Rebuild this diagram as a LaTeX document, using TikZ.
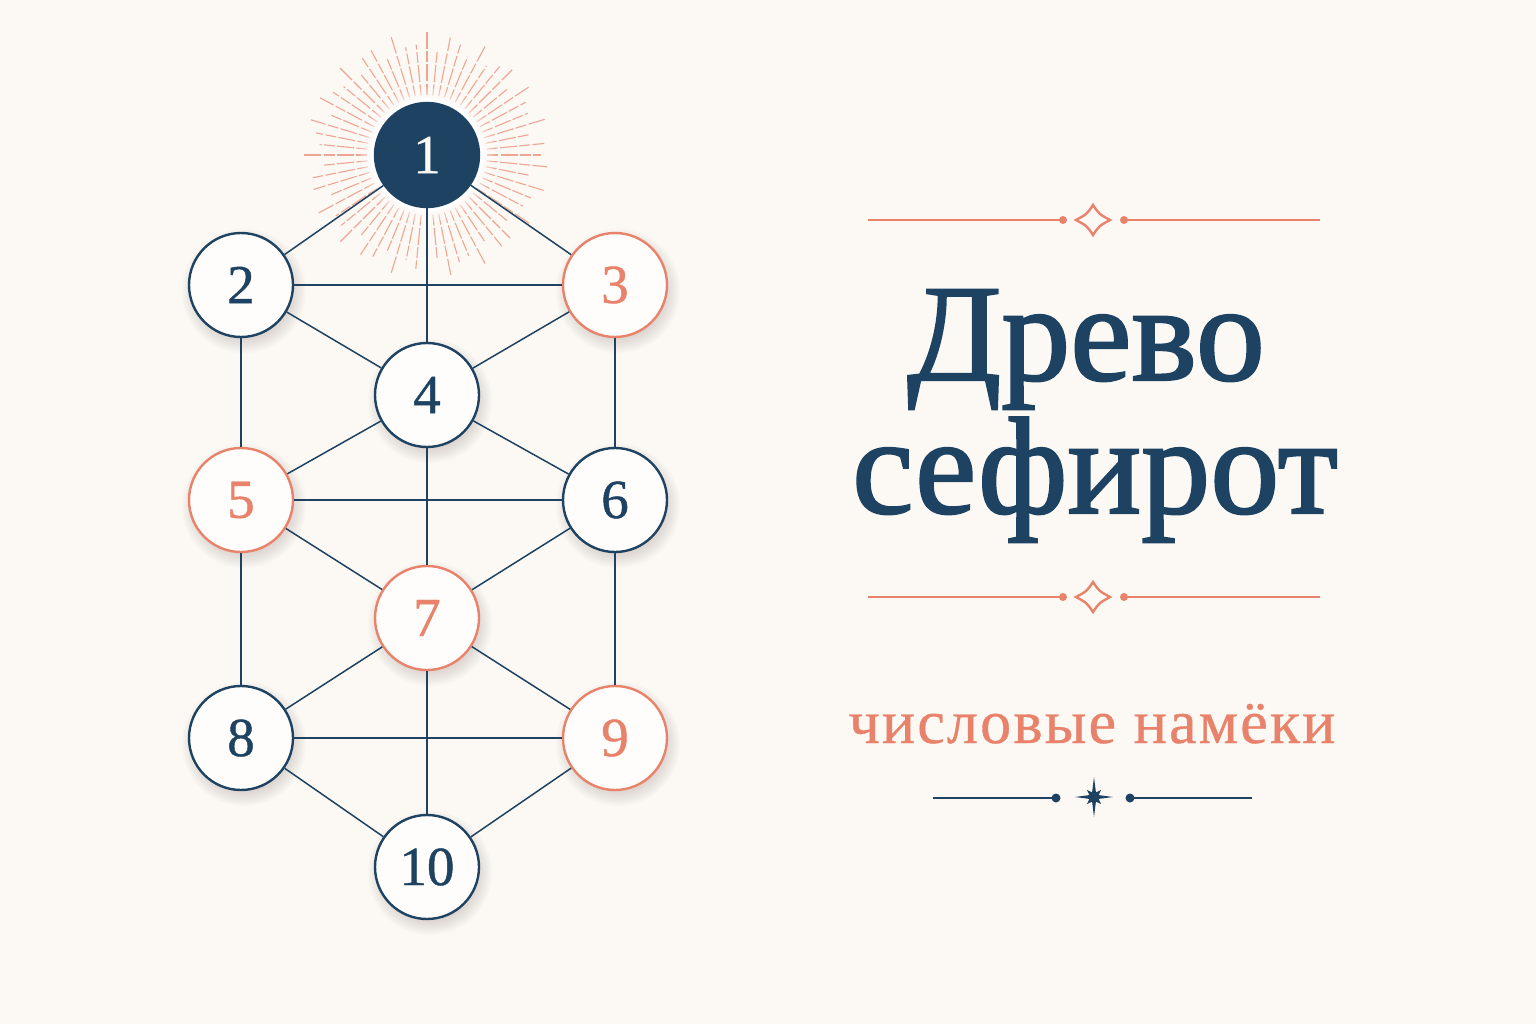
\documentclass[tikz,border=0pt]{standalone}
\usepackage{fontspec}
\setmainfont{Liberation Serif}
\newfontfamily\titlefont[FakeBold=1.6]{Liberation Serif}
\newfontfamily\numfont[FakeBold=0.8]{Liberation Serif}
\newfontfamily\subfont[FakeBold=0.6, LetterSpace=3.5]{Liberation Serif}
\definecolor{navy}{HTML}{1E4262}
\definecolor{coral}{HTML}{E9826A}
\definecolor{bg}{HTML}{FCF9F5}
\definecolor{nodefill}{HTML}{FEFDFB}
\definecolor{shade}{HTML}{6B5A4A}
\begin{document}
\begin{tikzpicture}[x=1pt,y=-1pt,
  sefira/.style={circle, minimum size=104pt, inner sep=0pt, line width=2.4pt, fill=nodefill,
    font=\numfont\fontsize{55}{55}\selectfont},
  navysef/.style={sefira, draw=navy, text=navy},
  coralsef/.style={sefira, draw=coral, text=coral},
  link/.style={draw=navy, line width=1.5pt},
  ray/.style={draw=coral, line width=1.1pt, opacity=0.7, dash pattern=on 11pt off 2.5pt on 17pt off 2pt},
  rule/.style={line width=1.6pt},
  softshade/.style={fill=shade, opacity=0.014},
]
\useasboundingbox (0,0) rectangle (1536,1024);
\fill[bg] (0,0) rectangle (1536,1024);

% sun rays
\foreach \i in {0,...,63}{
  \pgfmathsetmacro{\a}{\i*5.625}
  \pgfmathsetmacro{\ro}{114+10*sin(\i*137.5)}
  \draw[ray] ([shift={(\a:60)}]427,155) -- ([shift={(\a:\ro)}]427,155);
}
% halo of node 1
\foreach \k in {0,...,7}
  \fill[white, opacity=0.12] (427,155) circle (57+\k*1.5);
\fill[white] (427,155) circle (57);

% soft shadows
\foreach \x/\y in {241/285, 615/285, 427/395, 241/500, 615/500, 427/618, 241/738, 615/738, 427/867}{
  \foreach \k in {0,...,11}
    \fill[softshade] (\x+3,\y+6) circle (48+\k*1.3);
}

% nodes
\node[sefira, draw=navy, fill=navy, text=bg] (n1) at (427,155) {1};
\node[navysef] (n2) at (241,285) {2};
\node[coralsef] (n3) at (615,285) {3};
\node[navysef] (n4) at (427,395) {4};
\node[coralsef] (n5) at (241,500) {5};
\node[navysef] (n6) at (615,500) {6};
\node[coralsef] (n7) at (427,618) {7};
\node[navysef] (n8) at (241,738) {8};
\node[coralsef] (n9) at (615,738) {9};
\node[navysef] (n10) at (427,867) {10};

% connectors
\foreach \p/\q in {n1/n2, n1/n3, n1/n4, n2/n3, n2/n4, n3/n4, n2/n5, n3/n6, n4/n5, n4/n6,
  n5/n6, n4/n7, n5/n7, n6/n7, n5/n8, n6/n9, n7/n8, n7/n9, n8/n9, n7/n10, n8/n10, n9/n10}
  \draw[link] (\p) -- (\q);

% title
\node[anchor=base, text=navy, font=\titlefont\fontsize{138}{138}\selectfont, inner sep=0pt] (t1) at (1086,380) {Древо};
\node[anchor=base, text=navy, font=\titlefont\fontsize{138}{138}\selectfont, inner sep=0pt] (t2) at (1095,513) {сефирот};
\node[anchor=base, text=coral, font=\subfont\fontsize{62}{62}\selectfont, inner sep=0pt] (t3) at (1092,743) {числовые намёки};

% ornaments (coral)
\foreach \yy in {220,597}{
  \draw[coral, rule] (868,\yy) -- (1060,\yy);
  \fill[coral] (1063,\yy) circle (4);
  \fill[coral] (1124,\yy) circle (4);
  \draw[coral, rule] (1126,\yy) -- (1320,\yy);
  \draw[coral, line width=2.4pt, line join=miter] (1093,\yy-15) .. controls (1099,\yy-6) .. (1110,\yy)
     .. controls (1099,\yy+6) .. (1093,\yy+15) .. controls (1087,\yy+6) .. (1076,\yy)
     .. controls (1087,\yy-6) .. cycle;
}
% ornament (navy)
\draw[navy, rule] (933,798) -- (1054,798);
\fill[navy] (1056,798) circle (4.5);
\fill[navy] (1130,798) circle (4.5);
\draw[navy, rule] (1132,798) -- (1252,798);
\begin{scope}[shift={(1094,797)}]
\fill[navy] (0:19) -- (22.5:5) -- (45:10) -- (67.5:5) -- (90:20) -- (112.5:5) -- (135:10) -- (157.5:5)
  -- (180:19) -- (202.5:5) -- (225:10) -- (247.5:5) -- (270:20) -- (292.5:5) -- (315:10) -- (337.5:5) -- cycle;
\end{scope}
\end{tikzpicture}
\end{document}
